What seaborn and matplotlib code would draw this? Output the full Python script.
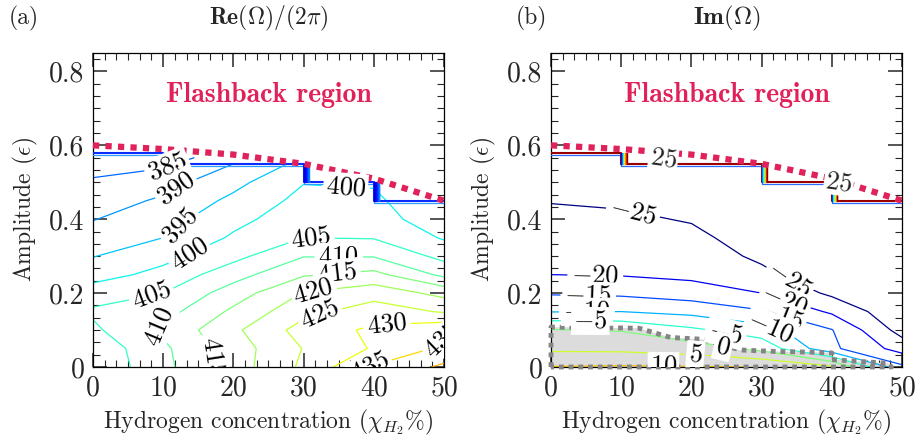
import numpy as np
import pandas as pd
import matplotlib
matplotlib.use("Agg")
import matplotlib.pyplot as plt
import matplotlib.transforms as mtransforms
import seaborn as sns
from matplotlib.ticker import AutoMinorLocator, MultipleLocator, FuncFormatter
from matplotlib.colors import Normalize

# ---------------- data ----------------
nan = np.nan
h2_percent = [0, 10, 20, 30, 40, 50]
amplitude = [0.0, 0.05, 0.10, 0.15, 0.20, 0.25, 0.30, 0.35, 0.40, 0.45, 0.50, 0.55, 0.58]

# Re(Omega)/(2 pi), one list per hydrogen concentration (along amplitude)
re_h0 = [401.0, 401.5, 404.0, 405.8, 402.5, 398.0, 394.8, 392.5, 389.8, 387.5, 385.5, 383.5, 382.0]
re_h10 = [408.5, 409.0, 411.0, 408.0, 405.0, 401.5, 398.5, 395.0, 393.0, 390.8, 388.0, 384.0, 381.0]
re_h20 = [417.5, 417.5, 419.0, 416.0, 412.5, 408.0, 403.5, 400.7, 398.5, 396.2, 393.5, 390.0, nan]
re_h30 = [426.0, 425.2, 427.0, 423.5, 420.3, 414.5, 409.8, 405.0, 403.0, 401.5, 399.8, 396.5, nan]
re_h40 = [435.5, 430.5, 431.0, 427.5, 423.0, 416.5, 409.7, 404.7, 402.5, 401.0, 399.5, nan, nan]
re_h50 = [441.0, 436.0, 434.0, 424.5, 418.5, 408.8, 403.5, 399.5, 396.5, 395.5, nan, nan, nan]

# Im(Omega)
im_h0 = [10.2, 4.0, 0.3, -10.2, -15.5, -20.0, -21.3, -22.6, -23.9, -25.2, -26.0, -26.8, -27.2]
im_h10 = [10.5, 3.8, -0.3, -10.0, -16.0, -20.3, -21.8, -23.0, -24.3, -25.6, -26.5, -27.3, -27.8]
im_h20 = [10.3, 2.5, -4.0, -11.5, -17.5, -21.2, -22.8, -24.0, -25.3, -26.5, -27.5, -28.2, nan]
im_h30 = [9.9, -1.5, -7.8, -14.5, -20.0, -24.0, -25.8, -27.0, -28.0, -28.8, -29.3, -29.7, nan]
im_h40 = [6.0, -14.0, -14.8, -20.8, -26.0, -28.0, -29.0, -29.5, -29.8, -30.0, -30.2, nan, nan]
im_h50 = [-14.0, -22.0, -27.0, -29.0, -30.0, -30.5, -31.0, -31.2, -31.5, -31.8, nan, nan, nan]

re_levels = [385, 390, 395, 400, 405, 410, 415, 420, 425, 430, 435, 440]
im_levels = [-25, -20, -15, -10, -5, 0, 5, 10, 15, 20, 25]
im_edge_level = 25  # level of the contours crowding at the flashback edge in (b)

# flashback limit
flash_h2 = [0, 10, 20, 30, 40, 50]
flash_amp = [0.60, 0.59, 0.575, 0.55, 0.51, 0.45]

# region with positive growth (panel b)
unstable_h2 = [0, 12.5, 17, 21.5, 27, 32, 37.5, 40, 40, 48, 48.5]
unstable_amp = [0.108, 0.105, 0.08, 0.075, 0.046, 0.042, 0.040, 0.038, 0.02, 0.01, 0.0]

# ---------------- style ----------------
sns.set_style("ticks")
plt.rcParams["font.family"] = ["cmr10", "DejaVu Serif"]
plt.rcParams["mathtext.fontset"] = "cm"
plt.rcParams["axes.unicode_minus"] = False
plt.rcParams["axes.formatter.use_mathtext"] = True
plt.rcParams["font.size"] = 16

cmap = matplotlib.colormaps["jet"]
flash_color = "#e0215a"
LABEL_FS = 19

fig = plt.figure(figsize=(9.17, 4.42), dpi=100)
ax_a = fig.add_axes([0.1014, 0.1697, 0.3828, 0.7104])
ax_b = fig.add_axes([0.6009, 0.1697, 0.3828, 0.7104])

X, Y = np.meshgrid(h2_percent, amplitude)
Z_re = np.column_stack([re_h0, re_h10, re_h20, re_h30, re_h40, re_h50])
Z_im = np.column_stack([im_h0, im_h10, im_h20, im_h30, im_h40, im_h50])


def cell_tops(Z):
    amp = np.array(amplitude)
    tops = [amp[~np.isnan(Z[:, j])].max() for j in range(Z.shape[1])]
    return [min(tops[j], tops[j + 1]) for j in range(len(tops) - 1)]


def draw_edge(ax, Z, top_color, under_color, bundle_range):
    """Edge of the computed domain below the flashback limit."""
    tops = cell_tops(Z)
    xs, ys = [], []
    for j, t in enumerate(tops):
        xs += [h2_percent[j], h2_percent[j + 1]]
        ys += [t, t]
    under = mtransforms.offset_copy(ax.transData, fig=fig, x=0, y=-2, units="dots")
    ax.plot(xs, ys, color=under_color, lw=0.9, zorder=3, transform=under)
    ax.plot(xs, ys, color=top_color, lw=1.5, zorder=3)
    # crowded contour lines at each step of the edge
    n = 8
    for j in range(1, len(tops)):
        if tops[j] < tops[j - 1]:
            for i in range(n):
                tr = mtransforms.offset_copy(ax.transData, fig=fig, x=i * 0.8, y=0, units="dots")
                c = cmap(bundle_range[0] + (bundle_range[1] - bundle_range[0]) * i / (n - 1))
                ax.plot([h2_percent[j], h2_percent[j]], [tops[j], tops[j - 1]],
                        color=c, lw=1.0, zorder=3, transform=tr)


def fmt(v):
    return r"$%d$" % int(round(v))


def style_axes(ax):
    ax.set_xlim(0, 50)
    ax.set_ylim(0, 0.85)
    ax.xaxis.set_major_locator(MultipleLocator(10))
    ax.xaxis.set_minor_locator(AutoMinorLocator(6))
    ax.yaxis.set_major_locator(MultipleLocator(0.2))
    ax.yaxis.set_minor_locator(AutoMinorLocator(6))
    ax.yaxis.set_major_formatter(FuncFormatter(lambda v, p: "0" if abs(v) < 1e-9 else "%.1f" % v))
    ax.xaxis.set_major_formatter(FuncFormatter(lambda v, p: "%d" % v))
    ax.tick_params(which="both", direction="in", top=True, right=True, labelsize=20)
    ax.tick_params(which="major", length=10, width=1.1, pad=6)
    ax.tick_params(which="minor", length=5, width=0.8)
    for s in ax.spines.values():
        s.set_linewidth(0.9)
        s.set_color("black")
    df = pd.DataFrame({"h2": flash_h2, "amp": flash_amp})
    sns.lineplot(data=df, x="h2", y="amp", ax=ax, color=flash_color, lw=4.5,
                 linestyle=(0, (1.0, 1.0)), dash_capstyle="butt", legend=False,
                 zorder=6, clip_on=False)
    ax.text(25, 0.735, "Flashback region", color=flash_color, fontsize=20,
            fontfamily="cmb10", ha="center", va="center")
    ax.set_xlabel(r"Hydrogen concentration ($\chi_{H_2}\%$)", fontsize=17)
    ax.set_ylabel(r"Amplitude ($\epsilon$)", fontsize=17)
    ax.xaxis.set_label_coords(0.5, -0.13)
    ax.yaxis.set_label_coords(-0.15, 0.5)


def add_labels(ax, cs, positions):
    texts = ax.clabel(cs, inline=True, fmt=fmt, fontsize=LABEL_FS, colors="black",
                      manual=positions, inline_spacing=4)
    for t in texts:
        t.set_bbox(dict(facecolor="white", edgecolor="none", pad=1.5))
        t.set_zorder(7)


# ---------- panel (a) ----------
cs_a = ax_a.contour(X, Y, Z_re, levels=re_levels, cmap=cmap,
                    norm=Normalize(360, 470), linewidths=0.9, zorder=2)
draw_edge(ax_a, Z_re, "#0a2cff", "#2a9dff", (0.05, 0.25))
add_labels(ax_a, cs_a, [(10.7, 0.54), (12.1, 0.478), (13.4, 0.37), (14.3, 0.295),
                        (36, 0.49), (8.6, 0.186), (31, 0.357), (10, 0.1), (35, 0.297),
                        (18, 0.03), (34.7, 0.254), (31.4, 0.203), (33.5, 0.105),
                        (42, 0.073), (48.4, 0.09), (38.5, 0.01)])
style_axes(ax_a)

# ---------- panel (b) ----------
poly_x = [0] + unstable_h2 + [0]
poly_y = [0] + unstable_amp + [0]
ax_b.fill(poly_x, poly_y, color="#dcdcdc", lw=0, zorder=1)
cs_b = ax_b.contour(X, Y, Z_im, levels=im_levels, cmap=cmap,
                    norm=Normalize(-25, 25), linewidths=0.9, zorder=2)
ax_b.plot(poly_x, poly_y, color="#858585", lw=3.5, linestyle=(0, (1.0, 1.0)),
          dash_capstyle="butt", zorder=3, clip_on=False)
draw_edge(ax_b, Z_im, "#9a0000", "#2a6dff", (0.1, 1.0))
for (lx, ly) in [(16, 0.565), (41, 0.50)]:
    ax_b.text(lx, ly, fmt(im_edge_level), fontsize=LABEL_FS, ha="center", va="center",
              rotation=-8, zorder=7,
              bbox=dict(facecolor="white", edgecolor="none", pad=1.0))
add_labels(ax_b, cs_b, [(11.7, 0.42), (33.6, 0.23), (6.3, 0.243), (33.3, 0.18),
                        (5.3, 0.195), (33, 0.149), (5.1, 0.16), (31.2, 0.105),
                        (5.6, 0.119), (25, 0.1), (24.4, 0.05), (20.5, 0.027), (16, 0.004)])
style_axes(ax_b)

fig.text(0.009, 0.959, "(a)", ha="left", va="center", fontsize=17)
fig.text(0.562, 0.959, "(b)", ha="left", va="center", fontsize=17)
fig.text(0.2928, 0.959, r"$\mathbf{Re}(\Omega)/(2\pi)$", ha="center", va="center", fontsize=17)
fig.text(0.7923, 0.959, r"$\mathbf{Im}(\Omega)$", ha="center", va="center", fontsize=18)

fig.savefig("out.png", dpi=100)
